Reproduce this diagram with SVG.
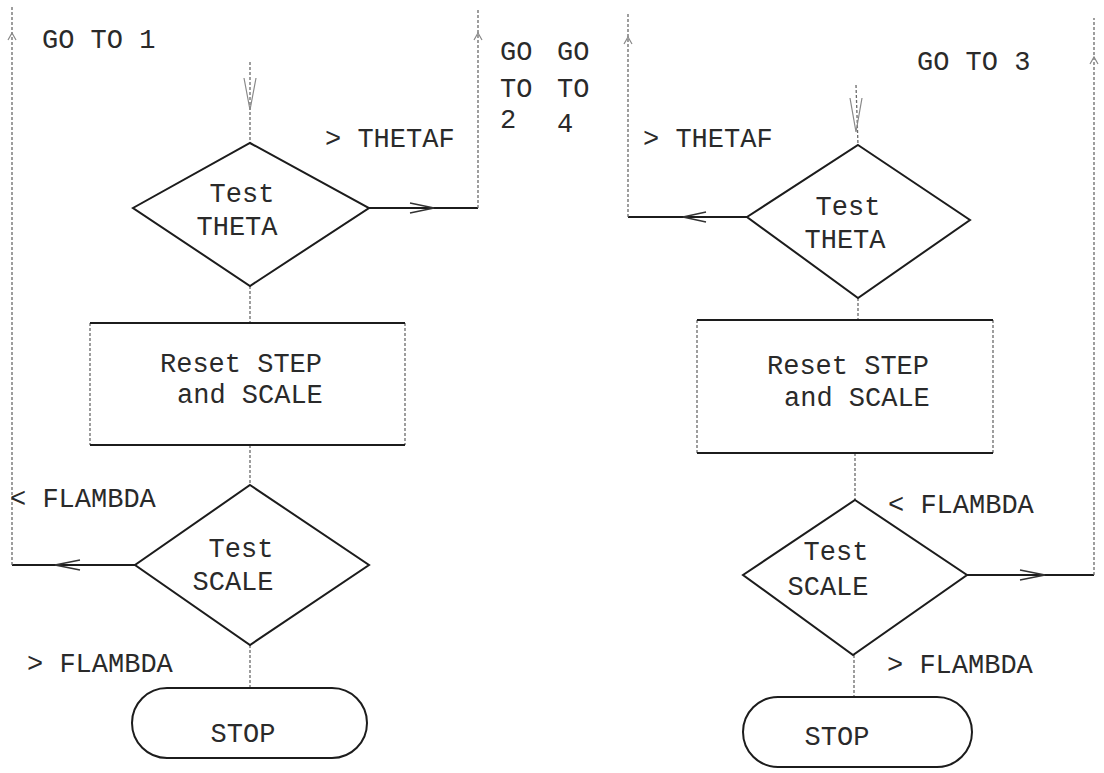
<svg xmlns="http://www.w3.org/2000/svg" width="1104" height="773" viewBox="0 0 1104 773">
<style>
.t{font-family:"Liberation Mono","Courier New",monospace;font-size:27px;fill:#2a2a2a}
.m{text-anchor:middle}
.solid{fill:none;stroke:#1c1c1c;stroke-width:2;stroke-linejoin:miter}
.dot{fill:none;stroke:#6a6a6a;stroke-width:1.3;stroke-dasharray:3 2}
.ah{fill:none;stroke:#333;stroke-width:1.5}
.ahf{fill:none;stroke:#888;stroke-width:1.2}
</style>
<rect width="1104" height="773" fill="#fff"/>
<g id="connectors">
  <!-- left column -->
  <path class="dot" d="M250,62 V143"/>
  <path class="ahf" d="M244,78 L250,110 L256,78"/>
  <path class="solid" d="M369,208 H478"/>
  <path class="dot" d="M478,208 V8"/>
  <path class="ah" d="M410,203 L434,208 L410,213"/>
  <path class="ahf" d="M474,40 L478,33 L482,40"/>
  <path class="dot" d="M250,286 V323"/>
  <path class="dot" d="M250,445 V485"/>
  <path class="solid" d="M135,565 H12"/>
  <path class="dot" d="M12,565 V6"/>
  <path class="ah" d="M80,560 L55,565 L80,570"/>
  <path class="ahf" d="M8,40 L12,33 L16,40"/>
  <path class="dot" d="M250,645 V688"/>
  <!-- right column -->
  <path class="dot" d="M856,85 L858,145"/>
  <path class="ahf" d="M850,98 L856,132 L862,98"/>
  <path class="solid" d="M747,217 H628"/>
  <path class="dot" d="M628,217 V12"/>
  <path class="ah" d="M706,212 L683,217 L706,222"/>
  <path class="ahf" d="M624,44 L628,37 L632,44"/>
  <path class="dot" d="M858,298 V320"/>
  <path class="dot" d="M855,453 V500"/>
  <path class="solid" d="M967,575 H1094"/>
  <path class="dot" d="M1094,575 V18"/>
  <path class="ah" d="M1020,570 L1045,575 L1020,580"/>
  <path class="ahf" d="M1090,64 L1094,57 L1098,64"/>
  <path class="dot" d="M854,655 V697"/>
</g>
<g id="goto-labels">
  <text class="t" x="42" y="48">GO TO 1</text>
  <text class="t" x="500" y="60">GO</text>
  <text class="t" x="500" y="97">TO</text>
  <text class="t" x="500" y="128">2</text>
  <text class="t" x="557" y="60">GO</text>
  <text class="t" x="557" y="97">TO</text>
  <text class="t" x="557" y="132">4</text>
  <text class="t" x="917" y="70">GO TO 3</text>
</g>
<g id="edge-labels">
  <text class="t" x="325" y="147">&gt; THETAF</text>
  <text class="t" x="643" y="147">&gt; THETAF</text>
  <text class="t" x="10" y="507">&lt; FLAMBDA</text>
  <text class="t" x="27" y="672">&gt; FLAMBDA</text>
  <text class="t" x="888" y="513">&lt; FLAMBDA</text>
  <text class="t" x="887" y="673">&gt; FLAMBDA</text>
</g>
<g id="test-theta-left">
  <polygon class="solid" points="250,143 369,208 250,286 133,208"/>
  <text class="t m" x="242" y="202">Test</text>
  <text class="t m" x="237" y="235">THETA</text>
</g>
<g id="reset-left">
  <path class="dot" d="M90,323 V445 M405,323 V445"/>
  <path class="solid" d="M90,323 H405 M90,445 H405"/>
  <text class="t" x="160" y="372">Reset STEP</text>
  <text class="t" x="177" y="403">and SCALE</text>
</g>
<g id="test-scale-left">
  <polygon class="solid" points="250,485 369,565 250,645 135,565"/>
  <text class="t m" x="241" y="557">Test</text>
  <text class="t m" x="233" y="590">SCALE</text>
</g>
<g id="stop-left">
  <rect class="solid" x="132" y="688" width="235" height="70" rx="35" ry="35"/>
  <text class="t m" x="243" y="742">STOP</text>
</g>
<g id="test-theta-right">
  <polygon class="solid" points="858,145 970,220 858,298 747,217"/>
  <text class="t m" x="848" y="215">Test</text>
  <text class="t m" x="845" y="248">THETA</text>
</g>
<g id="reset-right">
  <path class="dot" d="M697,320 V453 M993,320 V453"/>
  <path class="solid" d="M697,320 H993 M697,453 H993"/>
  <text class="t" x="767" y="374">Reset STEP</text>
  <text class="t" x="784" y="406">and SCALE</text>
</g>
<g id="test-scale-right">
  <polygon class="solid" points="855,500 967,575 853,655 743,575"/>
  <text class="t m" x="836" y="560">Test</text>
  <text class="t m" x="828" y="595">SCALE</text>
</g>
<g id="stop-right">
  <rect class="solid" x="743" y="697" width="229" height="70" rx="35" ry="35"/>
  <text class="t m" x="837" y="745">STOP</text>
</g>
</svg>
